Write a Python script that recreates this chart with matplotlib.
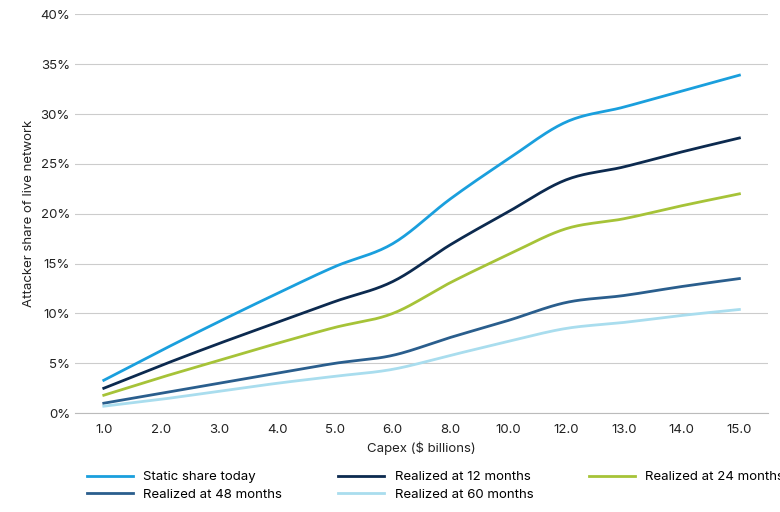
import numpy as np
import matplotlib
matplotlib.use("Agg")
import matplotlib.pyplot as plt

plt.rcParams['font.family'] = ['Inter', 'DejaVu Sans']

categories = ["1.0","2.0","3.0","4.0","5.0","6.0","8.0","10.0","12.0","13.0","14.0","15.0"]
static_today = [3.3,6.3,9.2,12.0,14.7,17.0,21.5,25.5,29.2,30.7,32.3,33.9]
realized_12 = [2.5,4.8,7.0,9.1,11.2,13.2,16.9,20.2,23.4,24.7,26.2,27.6]
realized_24 = [1.8,3.6,5.3,7.0,8.6,10.0,13.1,15.9,18.5,19.5,20.8,22.0]
realized_48 = [1.0,2.0,3.0,4.0,5.0,5.8,7.6,9.3,11.1,11.8,12.7,13.5]
realized_60 = [0.7,1.4,2.2,3.0,3.7,4.4,5.8,7.2,8.5,9.1,9.8,10.4]

series = [
    ("Static share today", static_today, "#1A9FDD"),
    ("Realized at 12 months", realized_12, "#0C2A4F"),
    ("Realized at 24 months", realized_24, "#A6C338"),
    ("Realized at 48 months", realized_48, "#2A5E8D"),
    ("Realized at 60 months", realized_60, "#A9DDEE"),
]

def smooth(y, n=20):
    y = np.asarray(y, float)
    x = np.arange(len(y))
    p = np.concatenate([[2*y[0]-y[1]], y, [2*y[-1]-y[-2]]])
    xs, ys = [], []
    for i in range(len(y)-1):
        p0, p1, p2, p3 = p[i], p[i+1], p[i+2], p[i+3]
        t = np.linspace(0, 1, n, endpoint=False)
        yy = 0.5*((2*p1) + (-p0+p2)*t + (2*p0-5*p1+4*p2-p3)*t**2 + (-p0+3*p1-3*p2+p3)*t**3)
        xs.append(x[i]+t); ys.append(yy)
    xs.append([x[-1]]); ys.append([y[-1]])
    return np.concatenate(xs), np.concatenate(ys)

fig, ax = plt.subplots(figsize=(7.8, 5.12), dpi=100)
fig.subplots_adjust(left=0.096, right=0.985, top=0.972, bottom=0.193)
handles = []
for name, vals, c in series:
    xs, ys = smooth(vals)
    h, = ax.plot(xs, ys, color=c, lw=2, label=name)
    handles.append(h)

ax.set_xlim(-0.5, len(categories)-0.5)
ax.set_ylim(0, 40)
ax.set_xticks(range(len(categories)))
ax.set_xticklabels(categories)
ax.set_yticks(range(0, 41, 5))
ax.set_yticklabels([f"{v}%" for v in range(0, 41, 5)])
ax.yaxis.grid(True, color="#cccccc", lw=0.8)
ax.set_axisbelow(True)
for s in ["top", "right", "left"]:
    ax.spines[s].set_visible(False)
ax.spines["bottom"].set_color("#bbbbbb")
ax.tick_params(length=0, labelsize=9.5, colors="#222222")
ax.tick_params(axis='x', pad=8)
ax.set_xlabel("Capex ($ billions)", fontsize=9.5, color="#222222")
ax.set_ylabel("Attacker share of live network", fontsize=9.5, color="#222222")
order = [0, 3, 1, 4, 2]
ax.legend([handles[i] for i in order], [series[i][0] for i in order],
          loc="upper left", bbox_to_anchor=(0.0, -0.115), ncol=3, frameon=False,
          fontsize=9.5, handlelength=3.5, columnspacing=4.2, labelspacing=0.4)
fig.savefig("out.png")
